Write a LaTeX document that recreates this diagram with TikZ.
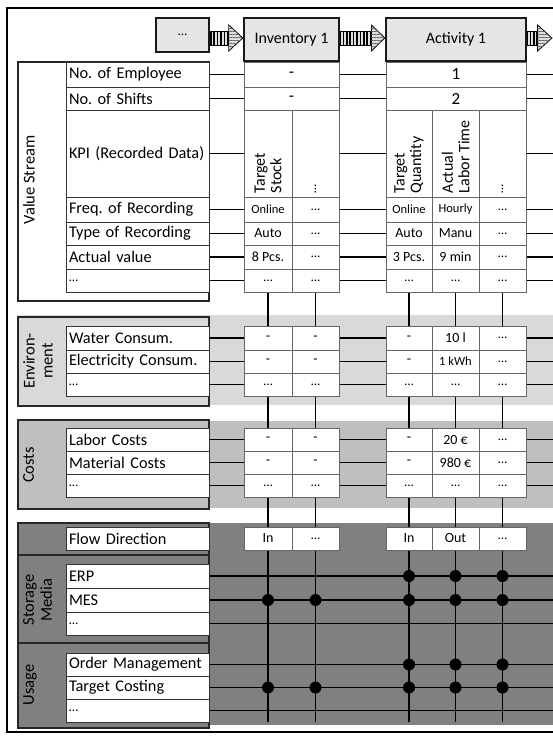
\documentclass[tikz,border=0pt]{standalone}
\usepackage{fontspec}
\setmainfont{Carlito}
\frenchspacing
\usetikzlibrary{calc,backgrounds,patterns.meta}

\newcommand{\elip}{{\fontsize{13}{14}\selectfont\dots}}
\newcommand{\smallf}{\fontsize{12.5}{14}\selectfont}
% cella: [stile]{nome}{x1}{y1}{x2}{y2}{testo}
\newcommand{\tcell}[7][]{\node[cell,#1,minimum width={(#5-#3)*1pt},minimum height={(#6-#4)*1pt}] (#2) at ({(#3+#5)/2},{(#4+#6)/2}) {#7};}
\newcommand{\invrow}[5]{\tcell{i1-#1}{244}{#2}{292}{#3}{#4}\tcell{i2-#1}{292}{#2}{339}{#3}{#5}}
\newcommand{\actrow}[6]{\tcell{a1-#1}{386}{#2}{432}{#3}{#4}\tcell{a2-#1}{432}{#2}{479}{#3}{#5}\tcell{a3-#1}{479}{#2}{526}{#3}{#6}}
% freccia di flusso tra due processi
\newcommand{\flowarrow}[3]{%
  \coordinate (fa-s) at (#1.east |- flowy);
  \coordinate (fa-t) at (#2 |- flowy);
  \coordinate (fa-h) at ($(fa-s)!#3!(fa-t)$);
  \draw[arrowbody] ([yshift=7pt]fa-s) rectangle ([yshift=-7pt]fa-h);
  \draw[arrowhead] ([yshift=13pt]fa-h) -- (fa-t) -- ([yshift=-13pt]fa-h) -- cycle;}

\tikzset{
  cell/.style={draw=black!60, line width=0.8pt, fill=white, inner sep=0pt, font=\fontsize{14}{16}\selectfont},
  lab/.style={draw=black!80, inner xsep=3pt, text width=137pt, align=left, font=\fontsize{16.3}{18}\selectfont},
  proc/.style={draw=black!90, line width=2.4pt, fill=gray!20, font=\fontsize{16}{18}\selectfont},
  secbox/.style={draw=black!85, line width=1.5pt},
  seclab/.style={rotate=90, anchor=north, align=center, inner sep=0pt, font=\fontsize{16.5}{18}\selectfont},
  kpitext/.style={rotate=90, anchor=west, align=left, inner sep=0pt, font=\fontsize{16}{16.5}\selectfont},
  conn/.style={line width=1.8pt, black},
  arrowbody/.style={draw=black, line width=0.8pt, fill=gray!25, postaction={pattern={Lines[angle=90,distance=3.4pt,line width=1.5pt]}}},
  arrowhead/.style={draw=black, line width=0.8pt, fill=gray!25, postaction={pattern={Lines[angle=0,distance=3pt,line width=0.6pt]}, pattern color=black!60}}
}

\begin{document}
\begin{tikzpicture}[x=1pt,y=-1pt]
  \useasboundingbox (0,0) rectangle (553,736);
  \coordinate (flowy) at (0,38);
  \coordinate (next) at (552,38);
  \coordinate (edge) at (600,0);
  \coordinate (bottom) at (0,722);

  % Cornice
  \draw[line width=2.8pt] (7,8) rectangle (600,732);

  % --- Processi ---
  \tcell[proc]{prev}{156}{18}{209}{52}{\elip}
  \tcell[proc]{inv}{244}{18}{339}{61}{Inventory 1}
  \tcell[proc]{actv}{386}{18}{526}{61}{Activity 1}
  \flowarrow{prev}{inv.west}{0.57}
  \flowarrow{inv}{actv.west}{0.7}
  \flowarrow{actv}{next}{0.42}

  % --- Value Stream ---
  \tcell[secbox]{vs}{18}{62}{209}{301}{}
  \node[seclab] (vs-t) at (23,180) {Value Stream};
  \tcell[lab]{l-emp}{66}{62}{209}{87}{No. of Employee}
  \tcell[lab]{l-shf}{66}{87}{209}{110}{No. of Shifts}
  \tcell[lab]{l-kpi}{66}{110}{209}{197}{KPI (Recorded Data)}
  \tcell[lab]{l-frq}{66}{197}{209}{222}{Freq. of Recording}
  \tcell[lab]{l-typ}{66}{222}{209}{245}{Type of Recording}
  \tcell[lab]{l-act}{66}{245}{209}{269}{Actual value}
  \tcell[lab]{l-vsd}{66}{269}{209}{292}{\elip}

  \tcell[font=\fontsize{17}{19}\selectfont]{i-emp}{244}{62}{339}{87}{-}
  \tcell[font=\fontsize{17}{19}\selectfont]{a-emp}{386}{62}{526}{87}{1}
  \tcell[font=\fontsize{17}{19}\selectfont]{i-shf}{244}{87}{339}{110}{-}
  \tcell[font=\fontsize{17}{19}\selectfont]{a-shf}{386}{87}{526}{110}{2}
  \invrow{kpi}{110}{197}{}{}
  \actrow{kpi}{110}{197}{}{}{}
  \node[kpitext] (i1-kpi-t) at ([yshift=4pt]i1-kpi.south) {Target\\Stock};
  \node[kpitext] (i2-kpi-t) at ([yshift=4pt]i2-kpi.south) {\elip};
  \node[kpitext] (a1-kpi-t) at ([yshift=4pt]a1-kpi.south) {Target\\Quantity};
  \node[kpitext] (a2-kpi-t) at ([yshift=4pt]a2-kpi.south) {Actual\\Labor Time};
  \node[kpitext] (a3-kpi-t) at ([yshift=4pt]a3-kpi.south) {\elip};
  \invrow{frq}{197}{222}{\smallf Online}{\elip}
  \actrow{frq}{197}{222}{\smallf Online}{\smallf Hourly}{\elip}
  \invrow{typ}{222}{245}{Auto}{\elip}
  \actrow{typ}{222}{245}{Auto}{Manu}{\elip}
  \invrow{act}{245}{269}{8 Pcs.}{\elip}
  \actrow{act}{245}{269}{3 Pcs.}{9 min}{\elip}
  \invrow{vsd}{269}{292}{\elip}{\elip}
  \actrow{vsd}{269}{292}{\elip}{\elip}{\elip}

  % --- Environment ---
  \tcell[secbox, fill=gray!30]{env}{18}{317}{209}{406}{}
  \node[seclab] (env-t) at (23,361) {Environ-\\ment};
  \tcell[lab]{l-wat}{66}{326}{209}{350}{Water Consum.}
  \tcell[lab]{l-ele}{66}{350}{209}{373}{Electricity Consum.}
  \tcell[lab]{l-envd}{66}{373}{209}{396}{\elip}
  \invrow{wat}{326}{350}{-}{-}
  \actrow{wat}{326}{350}{-}{10 l}{\elip}
  \invrow{ele}{350}{373}{-}{-}
  \actrow{ele}{350}{373}{-}{\smallf 1 kWh}{\elip}
  \invrow{envd}{373}{396}{\elip}{\elip}
  \actrow{envd}{373}{396}{\elip}{\elip}{\elip}

  % --- Costs ---
  \tcell[secbox, fill=gray!50]{cst}{18}{420}{209}{509}{}
  \node[seclab] (cst-t) at (23,465) {Costs};
  \tcell[lab]{l-lbc}{66}{428}{209}{451}{Labor Costs}
  \tcell[lab]{l-mat}{66}{451}{209}{474}{Material Costs}
  \tcell[lab]{l-cstd}{66}{474}{209}{497}{\elip}
  \invrow{lbc}{428}{451}{-}{-}
  \actrow{lbc}{428}{451}{-}{20 €}{\elip}
  \invrow{mat}{451}{474}{-}{-}
  \actrow{mat}{451}{474}{-}{980 €}{\elip}
  \invrow{cstd}{474}{497}{\elip}{\elip}
  \actrow{cstd}{474}{497}{\elip}{\elip}{\elip}

  % --- Flusso, supporti e utilizzo ---
  \tcell[secbox, fill=gray]{flw}{18}{523}{209}{555}{}
  \tcell[secbox, fill=gray]{sto}{18}{555}{209}{643}{}
  \tcell[secbox, fill=gray]{usg}{18}{643}{209}{728}{}
  \node[seclab] (sto-t) at (23,600) {Storage\\Media};
  \node[seclab] (usg-t) at (23,685) {Usage};
  \tcell[lab]{l-flw}{66}{527}{209}{550}{Flow Direction}
  \invrow{flw}{527}{550}{In}{\elip}
  \actrow{flw}{527}{550}{In}{Out}{\elip}
  \tcell[lab]{l-erp}{66}{564}{209}{588}{ERP}
  \tcell[lab]{l-mes}{66}{588}{209}{612}{MES}
  \tcell[lab]{l-std}{66}{612}{209}{635}{\elip}
  \tcell[lab]{l-ord}{66}{653}{209}{676}{Order Management}
  \tcell[lab]{l-tgc}{66}{676}{209}{699}{Target Costing}
  \tcell[lab]{l-usd}{66}{699}{209}{722}{\elip}

  % Fasce e collegamenti (sullo sfondo)
  \begin{scope}[on background layer]
    \fill[gray!30] (18,315) rectangle (600,405);
    \fill[gray!50] (18,421) rectangle (600,508);
    \fill[gray] (18,523) rectangle (600,725);
    \foreach \r in {emp,shf} {
      \draw[conn] (l-\r) -- (i-\r);
      \draw[conn] (i-\r) -- (a-\r);
      \draw[conn] (a-\r.east) -- (a-\r.east -| edge);
    }
    \foreach \r in {kpi,frq,typ,act,vsd,wat,ele,envd,lbc,mat,cstd} {
      \draw[conn] (l-\r) -- (i1-\r);
      \draw[conn] (i2-\r) -- (a1-\r);
      \draw[conn] (a3-\r.east) -- (a3-\r.east -| edge);
    }
    \foreach \c in {i1,i2,a1,a2,a3}
      \draw[conn] (\c-vsd.south) -- (\c-vsd.south |- bottom);
    \foreach \r in {erp,mes,std,ord,tgc,usd}
      \draw[conn] (l-\r.east) -- (l-\r.east -| edge);
  \end{scope}

  % Punti di utilizzo
  \foreach \c in {a1,a2,a3}
    \foreach \r in {erp,mes,ord,tgc}
      \fill (\c-vsd |- l-\r) circle (6pt);
  \foreach \c in {i1,i2}
    \foreach \r in {mes,tgc}
      \fill (\c-vsd |- l-\r) circle (6pt);
\end{tikzpicture}
\end{document}
